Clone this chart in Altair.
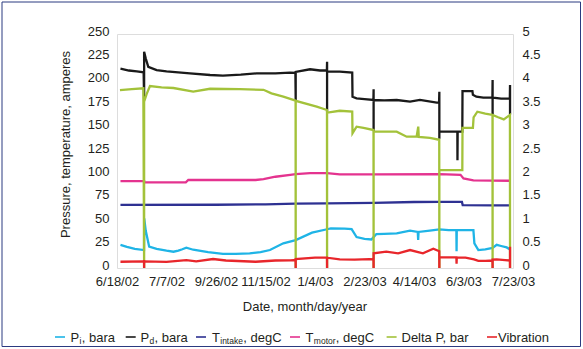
import json
import altair as alt
import pandas as pd

# ---------------- data ----------------
x_tick_days = [0, 50, 100, 150, 200, 250, 300, 350, 400]
x_tick_labels = ["6/18/02", "7/7/02", "9/26/02", "11/15/02", "1/4/03",
                 "2/23/03", "4/14/03", "6/3/03", "7/23/03"]
left_ticks = [0, 25, 50, 75, 100, 125, 150, 175, 200, 225, 250]
right_ticks = [0, 0.5, 1, 1.5, 2, 2.5, 3, 3.5, 4, 4.5, 5]

pi_day = [3.5, 10, 18, 27.3, 27.5, 29, 32.5, 40, 50, 57, 62, 66, 70, 77, 92, 107, 120, 134, 145,
          154.5, 168, 180.5, 197, 212.2, 216, 230, 237, 242, 250, 257, 259.2, 262, 270, 282.5, 296,
          303.8, 304.2, 304.6, 316, 325.6, 335, 342.8, 343, 343.2, 350, 360, 361, 365, 372, 377,
          379.4, 383.5, 388, 393.6, 397]
pi_val = [24.6, 22.5, 20.5, 19.2, 53, 40, 22.8, 20.5, 18.5, 17.4, 18.5, 20, 21.7, 19.5, 17, 15,
          15, 15.6, 17, 19.2, 26.4, 29.8, 37.7, 41.4, 42.4, 42, 41.5, 33, 31, 30.5, 33, 36.3, 36.5,
          37, 39.9, 38.5, 30, 38.5, 39.9, 41.2, 40.5, 40.5, 18, 40.5, 40.5, 40.5, 26.4, 19.2, 20,
          21, 21.5, 24.8, 23.5, 22, 19.8]

pd_day = [3.5, 12, 20, 26.9, 27.4, 27.4, 29, 31.6, 40, 50, 73.7, 94, 107, 125, 141, 160, 174.7,
          180.2, 180.5, 180.5, 195, 205, 212, 212.2, 212.2, 212.2, 225, 237.6, 237.9, 242, 250,
          259, 259.2, 259.2, 259.2, 270, 282.5, 296, 306, 323, 325.3, 325.6, 325.6, 325.6, 343.8,
          343.9, 344.1, 348.8, 349, 359, 359.5, 363, 370, 379.2, 379.4, 379.4, 379.4, 388, 396.8,
          397, 397]
pd_val = [213, 211, 210, 209, 180, 231, 224, 215, 211.5, 210, 208, 206.2, 205.5, 206.5, 208, 208,
          208.7, 208.5, 179, 209.5, 212.3, 211, 211, 220.4, 167, 210, 209.8, 208.7, 183, 181.3,
          180.5, 179.5, 191, 146, 179.5, 179, 179.5, 177.7, 179.5, 176.6, 176.6, 188.4, 138,
          145.6, 145.6, 115, 145.6, 145.6, 189, 189, 185, 183, 182, 182, 200.9, 164, 182, 181,
          181, 195.5, 164]

tin_day = [3.5, 100, 150, 180.5, 212.2, 259.2, 300, 325.6, 348.4, 349.2, 379.4, 397]
tin_val = [67.4, 67.6, 68, 68.7, 69, 69.6, 70.5, 70.6, 70.6, 67.2, 67, 67]

tmo_day = [3.5, 27.4, 27.5, 69.5, 72, 140, 148, 160, 175, 180.5, 195, 212.2, 225, 259.2, 325.6,
           347, 350, 360, 379.4, 397]
tmo_val = [92.9, 92.9, 91.5, 91.5, 94, 94, 95, 97.5, 99.5, 100.3, 101.4, 101.4, 100, 100, 100.2,
           99.5, 95.7, 93.6, 93.4, 93.2]

dp_day = [3, 15, 26.6, 27.4, 27.4, 30, 33.3, 45, 57, 77, 94, 124, 148, 156, 168, 180.4, 180.5,
          180.5, 201.7, 212.1, 212.2, 212.2, 225, 237.6, 237.9, 242, 249, 259.1, 259.2, 259.2,
          282.5, 292.6, 302.7, 304.3, 304.8, 316, 325.5, 325.6, 325.6, 348.8, 349, 359.5, 360.2,
          364, 372, 379.3, 379.4, 379.4, 385, 390.7, 396.9, 397]
dp_val = [190, 191, 192, 0, 177.7, 186, 194.4, 193, 192.3, 188.4, 191.5, 191, 190.4, 186.6, 183,
          178.8, 0, 178.6, 172.4, 168.8, 0, 166, 168, 167, 144, 151, 149.6, 147.4, 0, 145.6, 145.6,
          140.3, 140.5, 151, 140, 139, 137, 0, 104.6, 104.6, 149.6, 149.6, 161, 167, 165, 163.5, 0,
          163.5, 161, 158.8, 163.5, 0]

vib_day = [3.5, 27.3, 27.4, 27.4, 50, 70, 80, 97, 110, 140, 160, 175, 180.4, 180.5, 180.5, 200,
           212.1, 212.2, 212.2, 225, 240, 255, 259.1, 259.2, 259.2, 272, 284, 296, 309, 319.5,
           325.5, 325.6, 325.6, 342.8, 343, 343.2, 352, 360.6, 365, 372, 379.3, 379.4, 379.4, 383.5,
           392, 396.9, 397, 397]
vib_val = [6.7, 7, 0, 7, 6.5, 8.5, 7, 9.6, 8, 6.7, 8, 8.2, 8.5, 0, 9.5, 11, 11, 0, 11, 9.3, 9,
           9.5, 9.3, 0, 15.7, 17.4, 15.7, 19.2, 15.7, 20.6, 18, 0, 11.4, 11.4, 4.7, 11.4, 11,
           9.3, 7.6, 7.6, 8, 0, 9, 9.3, 8.5, 8, 0, 22.8]

series = [
    ("Pi", pi_day, pi_val, "#1fb4e6"),
    ("Pd", pd_day, pd_val, "#1a1a1a"),
    ("Tintake", tin_day, tin_val, "#2e3192"),
    ("Tmotor", tmo_day, tmo_val, "#e4338f"),
    ("DeltaP", dp_day, dp_val, "#a3c23a"),
    ("Vibration", vib_day, vib_val, "#e8262b"),
]

# legend entries: (main text, subscript, rest, colour)
legend_items = [
    ("P", "i", ", bara", "#1fb4e6"),
    ("P", "d", ", bara", "#1a1a1a"),
    ("T", "intake", ", degC", "#2e3192"),
    ("T", "motor", ", degC", "#e4338f"),
    ("Delta P, bar", "", "", "#a3c23a"),
    ("Vibration", "", "", "#e8262b"),
]

# ---------------- layout ----------------
FONT = "Liberation Sans"
TXT = "#231f20"
W, H = 396, 234
PAD_L, PAD_T = 117, 34
FS = 13
SUB_FS = 8.5

ARIAL = {"P": 667, "T": 611, "i": 222, "d": 556, "n": 556, "t": 278, "a": 556, "k": 500,
         "e": 556, "m": 833, "o": 556, "r": 333, ",": 278, " ": 278, "b": 556, "g": 556,
         "C": 722, "D": 722, "l": 222, "V": 667}


def tw(s, size):
    return sum(ARIAL.get(ch, 556) for ch in s) / 1000.0 * size


legend_dash_x = [55, 125.7, 196, 290, 386.6, 487]
legend_text_x = [70.6, 140.5, 212, 305.6, 401.5, 498]
legend_y = 337

rule_rows, text_rows = [], []
for (main, sub, rest, col), dx, tx in zip(legend_items, legend_dash_x, legend_text_x):
    rule_rows.append({"x1": dx - PAD_L, "x2": dx + 10 - PAD_L, "y": legend_y - PAD_T, "c": col})
    text_rows.append({"x": tx - PAD_L, "y": legend_y + 4.6 - PAD_T, "t": main, "s": FS})
    if sub:
        sx = tx + tw(main, FS) + 0.3
        text_rows.append({"x": sx - PAD_L, "y": legend_y + 7 - PAD_T, "t": sub, "s": SUB_FS})
        rx = sx + tw(sub, SUB_FS) + 0.3
        text_rows.append({"x": rx - PAD_L, "y": legend_y + 4.6 - PAD_T, "t": rest, "s": FS})

label_expr = json.dumps(x_tick_labels) + "[round(datum.value / 50)]"

xenc = alt.X("day:Q",
             scale=alt.Scale(domain=[0, 400], nice=False, zero=False),
             axis=alt.Axis(values=x_tick_days, labelExpr=label_expr, title="Date, month/day/year",
                           grid=False, domain=False, ticks=False, tickSize=0,
                           labelPadding=13, labelBaseline="middle", labelFlush=False,
                           labelFont=FONT, labelFontSize=FS, labelColor=TXT,
                           titleFont=FONT, titleFontSize=FS, titleFontWeight="normal",
                           titleColor=TXT, titleX=187.5, titleY=38.7, titleBaseline="middle",
                           titleAlign="center", titleAnchor="start"))

yenc = alt.Y("value:Q",
             scale=alt.Scale(domain=[0, 250], nice=False, zero=True),
             axis=alt.Axis(values=left_ticks, title="Pressure, temperature, amperes",
                           grid=False, domain=False, ticks=False, tickSize=0, labelPadding=8,
                           labelOffset=-3, labelFlush=False,
                           labelFont=FONT, labelFontSize=FS, labelColor=TXT,
                           titleFont=FONT, titleFontSize=FS, titleFontWeight="normal",
                           titleColor=TXT, titleX=-52, titleY=110, titleAngle=270,
                           titleBaseline="middle", titleAlign="center", titleAnchor="start"))

line_layers = []
for name, days, vals, col in series:
    df = pd.DataFrame({"day": days, "value": vals, "i": list(range(len(days)))})
    line_layers.append(
        alt.Chart(df).mark_line(color=col, strokeWidth=2.3, interpolate="linear")
        .encode(x=xenc, y=yenc, order=alt.Order("i:Q"))
    )
data_layer = alt.layer(*line_layers)

right_df = pd.DataFrame({"day": [0, 0], "v": [0, 5]})
right_layer = alt.Chart(right_df).mark_point(opacity=0).encode(
    x=xenc,
    y=alt.Y("v:Q", scale=alt.Scale(domain=[0, 5], nice=False, zero=True),
            axis=alt.Axis(orient="right", values=right_ticks, format="~g", title=None,
                          grid=False, domain=False, ticks=False, tickSize=0, labelPadding=9,
                          labelOffset=-3, labelFlush=False,
                          labelFont=FONT, labelFontSize=FS, labelColor=TXT)),
)

legend_rules = alt.Chart(pd.DataFrame(rule_rows)).mark_rule(strokeWidth=1.6).encode(
    x=alt.X("x1:Q", scale=None, axis=None),
    x2="x2:Q",
    y=alt.Y("y:Q", scale=None, axis=None),
    color=alt.Color("c:N", scale=None, legend=None),
)

legend_text = alt.Chart(pd.DataFrame(text_rows)).mark_text(
    align="left", baseline="alphabetic", font=FONT, color=TXT
).encode(
    x=alt.X("x:Q", scale=None, axis=None),
    y=alt.Y("y:Q", scale=None, axis=None),
    text="t:N",
    size=alt.Size("s:Q", scale=None, legend=None),
)

border = alt.Chart(pd.DataFrame({"a": [0]})).mark_rect(
    filled=False, stroke="#2b3a80", strokeWidth=1
).encode(
    x=alt.value(2 - PAD_L), x2=alt.value(580.5 - PAD_L),
    y=alt.value(2 - PAD_T), y2=alt.value(346.5 - PAD_T),
)

chart = alt.layer(data_layer, right_layer, legend_rules, legend_text, border).resolve_scale(
    y="independent"
).properties(
    width=W, height=H,
    autosize=alt.AutoSizeParams(type="none"),
    padding={"left": PAD_L, "top": PAD_T, "right": 583 - PAD_L - W, "bottom": 349 - PAD_T - H},
    background="white",
).configure_view(
    stroke="#3a3a3a", strokeWidth=2
).configure(font=FONT)

chart.save("out.html", embed_options={"renderer": "svg", "actions": False})
